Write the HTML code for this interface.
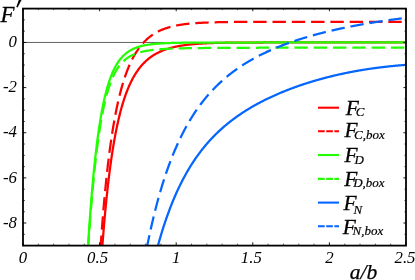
<!DOCTYPE html>
<html><head><meta charset="utf-8"><title>chart</title>
<style>html,body{margin:0;padding:0;background:#fff;width:415px;height:280px;overflow:hidden}</style>
</head><body>
<svg width="415" height="280" viewBox="0 0 415 280" style="position:absolute;left:0;top:0">
<rect width="415" height="280" fill="#fff"/>
<defs><clipPath id="c"><rect x="23.0" y="8.6" width="383.0" height="237.0"/></clipPath></defs>
<line x1="23.0" y1="42.46" x2="406.0" y2="42.46" stroke="#3a3a3a" stroke-width="0.8"/>
<g clip-path="url(#c)" fill="none" stroke-width="2.25" stroke-linecap="butt" stroke-linejoin="round">
<path d="M101.91,252.17 L102.46,244.74 L103.01,237.61 L103.56,230.79 L104.11,224.24 L104.66,217.96 L105.21,211.94 L105.76,206.16 L106.31,200.61 L106.86,195.28 L107.41,190.16 L107.96,185.24 L108.51,180.51 L109.06,175.96 L109.61,171.59 L110.16,167.38 L110.71,163.33 L111.26,159.44 L111.81,155.69 L112.36,152.07 L112.91,148.60 L113.46,145.24 L114.01,142.01 L114.56,138.90 L115.11,135.90 L115.66,133.00 L116.21,130.21 L116.76,127.51 L117.31,124.91 L117.86,122.40 L118.41,119.97 L118.96,117.63 L119.51,115.37 L120.06,113.19 L120.61,111.08 L121.16,109.04 L121.71,107.06 L122.26,105.16 L122.81,103.31 L123.36,101.53 L123.91,99.80 L124.46,98.14 L125.01,96.52 L125.56,94.96 L126.11,93.44 L126.66,91.98 L127.21,90.56 L127.76,89.18 L128.31,87.85 L128.86,86.56 L129.41,85.31 L129.96,84.10 L130.51,82.93 L131.06,81.79 L131.61,80.69 L132.16,79.62 L132.71,78.58 L133.26,77.57 L133.81,76.60 L134.36,75.65 L134.91,74.73 L135.46,73.84 L136.01,72.97 L136.56,72.13 L137.11,71.32 L137.66,70.53 L138.21,69.76 L138.76,69.01 L139.31,68.29 L139.86,67.58 L140.41,66.90 L140.96,66.24 L141.51,65.59 L142.06,64.96 L142.61,64.35 L143.16,63.76 L143.71,63.19 L144.26,62.63 L144.81,62.08 L145.36,61.55 L145.91,61.04 L146.46,60.54 L147.01,60.05 L147.55,59.58 L148.10,59.12 L148.65,58.68 L149.20,58.24 L149.75,57.82 L150.30,57.41 L150.85,57.01 L151.40,56.62 L151.95,56.24 L152.50,55.87 L153.05,55.51 L153.60,55.16 L154.15,54.82 L154.70,54.49 L155.25,54.17 L155.80,53.86 L156.35,53.55 L156.90,53.26 L157.45,52.97 L158.00,52.69 L158.55,52.41 L159.10,52.15 L159.65,51.89 L160.20,51.63 L160.75,51.39 L161.30,51.15 L161.85,50.92 L162.40,50.69 L162.95,50.47 L163.50,50.25 L164.05,50.04 L164.60,49.84 L165.15,49.64 L165.70,49.45 L166.25,49.26 L166.80,49.08 L167.35,48.90 L167.90,48.73 L168.45,48.56 L169.00,48.39 L169.55,48.23 L170.10,48.07 L170.65,47.92 L171.20,47.77 L171.75,47.63 L172.30,47.49 L172.85,47.35 L173.40,47.22 L173.95,47.09 L174.50,46.96 L175.05,46.84 L175.60,46.72 L176.15,46.60 L176.70,46.49 L177.25,46.38 L177.80,46.27 L178.35,46.16 L178.90,46.06 L179.45,45.96 L180.00,45.86 L180.55,45.77 L181.10,45.68 L181.65,45.59 L182.20,45.50 L182.75,45.42 L183.30,45.33 L183.85,45.25 L184.40,45.17 L184.95,45.10 L185.50,45.02 L186.05,44.95 L186.60,44.88 L187.15,44.81 L187.70,44.75 L188.25,44.68 L188.80,44.62 L189.35,44.56 L189.90,44.50 L190.45,44.44 L191.00,44.38 L191.55,44.33 L192.10,44.27 L192.65,44.22 L193.20,44.17 L193.75,44.12 L194.29,44.07 L194.84,44.03 L195.39,43.98 L195.94,43.94 L196.49,43.89 L197.04,43.85 L197.59,43.81 L198.14,43.77 L198.69,43.73 L199.24,43.70 L199.79,43.66 L200.34,43.62 L200.89,43.59 L201.44,43.56 L201.99,43.52 L202.54,43.49 L203.09,43.46 L203.64,43.43 L204.19,43.40 L204.74,43.37 L205.29,43.35 L205.84,43.32 L206.39,43.29 L206.94,43.27 L207.49,43.24 L208.04,43.22 L208.59,43.20 L209.14,43.17 L209.69,43.15 L210.24,43.13 L210.79,43.11 L211.34,43.09 L211.89,43.07 L212.44,43.05 L212.99,43.03 L213.54,43.02 L214.09,43.00 L214.64,42.98 L215.19,42.97 L215.74,42.95 L216.29,42.94 L216.84,42.92 L217.39,42.91 L217.94,42.89 L218.49,42.88 L219.04,42.87 L219.59,42.85 L220.14,42.84 L220.69,42.83 L221.24,42.82 L221.79,42.81 L222.34,42.79 L222.89,42.78 L223.44,42.77 L223.99,42.76 L224.54,42.75 L225.09,42.74 L225.64,42.74 L226.19,42.73 L226.74,42.72 L227.29,42.71 L227.84,42.70 L228.39,42.69 L228.94,42.69 L229.49,42.68 L230.04,42.67 L230.59,42.67 L231.14,42.66 L231.69,42.65 L232.24,42.65 L232.79,42.64 L233.34,42.64 L233.89,42.63 L234.44,42.62 L234.99,42.62 L235.54,42.61 L236.09,42.61 L236.64,42.60 L237.19,42.60 L237.74,42.59 L238.29,42.59 L238.84,42.59 L239.39,42.58 L239.94,42.58 L240.49,42.57 L241.04,42.57 L241.58,42.57 L242.13,42.56 L242.68,42.56 L243.23,42.56 L243.78,42.55 L244.33,42.55 L244.88,42.55 L245.43,42.55 L245.98,42.54 L246.53,42.54 L247.08,42.54 L247.63,42.54 L248.18,42.53 L248.73,42.53 L249.28,42.53 L249.83,42.53 L250.38,42.53 L250.93,42.52 L251.48,42.52 L252.03,42.52 L252.58,42.52 L253.13,42.52 L253.68,42.51 L254.23,42.51 L254.78,42.51 L255.33,42.51 L255.88,42.51 L256.43,42.51 L256.98,42.51 L257.53,42.51 L258.08,42.50 L258.63,42.50 L259.18,42.50 L259.73,42.50 L260.28,42.50 L260.83,42.50 L261.38,42.50 L261.93,42.50 L262.48,42.50 L263.03,42.50 L263.58,42.49 L264.13,42.49 L264.68,42.49 L265.23,42.49 L265.78,42.49 L266.33,42.49 L266.88,42.49 L267.43,42.49 L267.98,42.49 L268.53,42.49 L269.08,42.49 L269.63,42.49 L270.18,42.49 L270.73,42.49 L271.28,42.49 L271.83,42.49 L272.38,42.48 L272.93,42.48 L273.48,42.48 L274.03,42.48 L274.58,42.48 L275.13,42.48 L275.68,42.48 L276.23,42.48 L276.78,42.48 L277.33,42.48 L277.88,42.48 L278.43,42.48 L278.98,42.48 L279.53,42.48 L280.08,42.48 L280.63,42.48 L281.18,42.48 L281.73,42.48 L282.28,42.48 L282.83,42.48 L283.38,42.48 L283.93,42.48 L284.48,42.48 L285.03,42.48 L285.58,42.48 L286.13,42.48 L286.68,42.48 L287.23,42.48 L287.78,42.48 L288.33,42.48 L288.87,42.48 L289.42,42.48 L289.97,42.48 L290.52,42.48 L291.07,42.48 L291.62,42.48 L292.17,42.48 L292.72,42.48 L293.27,42.48 L293.82,42.48 L294.37,42.48 L294.92,42.48 L295.47,42.48 L296.02,42.48 L296.57,42.48 L297.12,42.48 L297.67,42.48 L298.22,42.48 L298.77,42.48 L299.32,42.48 L299.87,42.48 L300.42,42.48 L300.97,42.48 L301.52,42.48 L302.07,42.48 L302.62,42.48 L303.17,42.48 L303.72,42.48 L304.27,42.48 L304.82,42.48 L305.37,42.48 L305.92,42.48 L306.47,42.48 L307.02,42.48 L307.57,42.48 L308.12,42.48 L308.67,42.48 L309.22,42.48 L309.77,42.48 L310.32,42.48 L310.87,42.48 L311.42,42.48 L311.97,42.48 L312.52,42.48 L313.07,42.48 L313.62,42.48 L314.17,42.48 L314.72,42.48 L315.27,42.48 L315.82,42.48 L316.37,42.48 L316.92,42.48 L317.47,42.48 L318.02,42.48 L318.57,42.48 L319.12,42.48 L319.67,42.48 L320.22,42.48 L320.77,42.48 L321.32,42.48 L321.87,42.48 L322.42,42.48 L322.97,42.48 L323.52,42.48 L324.07,42.48 L324.62,42.48 L325.17,42.48 L325.72,42.48 L326.27,42.48 L326.82,42.48 L327.37,42.48 L327.92,42.48 L328.47,42.48 L329.02,42.48 L329.57,42.48 L330.12,42.48 L330.67,42.48 L331.22,42.48 L331.77,42.48 L332.32,42.48 L332.87,42.48 L333.42,42.48 L333.97,42.48 L334.52,42.48 L335.07,42.48 L335.61,42.48 L336.16,42.48 L336.71,42.48 L337.26,42.48 L337.81,42.48 L338.36,42.48 L338.91,42.48 L339.46,42.48 L340.01,42.48 L340.56,42.48 L341.11,42.48 L341.66,42.48 L342.21,42.48 L342.76,42.48 L343.31,42.48 L343.86,42.48 L344.41,42.48 L344.96,42.48 L345.51,42.48 L346.06,42.48 L346.61,42.48 L347.16,42.48 L347.71,42.48 L348.26,42.47 L348.81,42.47 L349.36,42.47 L349.91,42.47 L350.46,42.47 L351.01,42.47 L351.56,42.47 L352.11,42.47 L352.66,42.47 L353.21,42.47 L353.76,42.47 L354.31,42.47 L354.86,42.47 L355.41,42.47 L355.96,42.47 L356.51,42.47 L357.06,42.47 L357.61,42.47 L358.16,42.47 L358.71,42.47 L359.26,42.47 L359.81,42.47 L360.36,42.47 L360.91,42.47 L361.46,42.47 L362.01,42.47 L362.56,42.47 L363.11,42.47 L363.66,42.47 L364.21,42.47 L364.76,42.47 L365.31,42.47 L365.86,42.47 L366.41,42.47 L366.96,42.47 L367.51,42.47 L368.06,42.47 L368.61,42.47 L369.16,42.47 L369.71,42.47 L370.26,42.47 L370.81,42.47 L371.36,42.47 L371.91,42.47 L372.46,42.47 L373.01,42.47 L373.56,42.47 L374.11,42.47 L374.66,42.47 L375.21,42.47 L375.76,42.47 L376.31,42.47 L376.86,42.47 L377.41,42.47 L377.96,42.47 L378.51,42.47 L379.06,42.47 L379.61,42.47 L380.16,42.47 L380.71,42.47 L381.26,42.47 L381.81,42.47 L382.36,42.47 L382.90,42.47 L383.45,42.47 L384.00,42.47 L384.55,42.47 L385.10,42.47 L385.65,42.47 L386.20,42.47 L386.75,42.47 L387.30,42.47 L387.85,42.47 L388.40,42.47 L388.95,42.47 L389.50,42.47 L390.05,42.47 L390.60,42.47 L391.15,42.47 L391.70,42.47 L392.25,42.47 L392.80,42.47 L393.35,42.47 L393.90,42.47 L394.45,42.47 L395.00,42.47 L395.55,42.47 L396.10,42.47 L396.65,42.47 L397.20,42.47 L397.75,42.47 L398.30,42.47 L398.85,42.47 L399.40,42.47 L399.95,42.47 L400.50,42.47 L401.05,42.47 L401.60,42.47 L402.15,42.47 L402.70,42.47 L403.25,42.47 L403.80,42.47 L404.35,42.47 L404.90,42.47 L405.45,42.47 L406.00,42.47" stroke="#ff0000"/>
<path d="M100.26,252.03 L100.81,243.97 L101.36,236.24 L101.91,228.84 L102.46,221.73 L103.01,214.92 L103.56,208.38 L104.11,202.10 L104.66,196.07 L105.21,190.28 L105.76,184.71 L106.31,179.35 L106.86,174.20 L107.41,169.25 L107.96,164.48 L108.51,159.89 L109.06,155.47 L109.61,151.21 L110.16,147.11 L110.71,143.15 L111.26,139.34 L111.81,135.67 L112.36,132.12 L112.91,128.70 L113.46,125.40 L114.01,122.21 L114.56,119.14 L115.11,116.17 L115.66,113.30 L116.21,110.52 L116.76,107.84 L117.31,105.25 L117.86,102.75 L118.41,100.33 L118.96,97.99 L119.51,95.72 L120.06,93.53 L120.61,91.41 L121.16,89.36 L121.71,87.37 L122.26,85.44 L122.81,83.58 L123.36,81.78 L123.91,80.03 L124.46,78.34 L125.01,76.70 L125.56,75.11 L126.11,73.57 L126.66,72.07 L127.21,70.62 L127.76,69.22 L128.31,67.86 L128.86,66.54 L129.41,65.26 L129.96,64.02 L130.51,62.81 L131.06,61.64 L131.61,60.51 L132.16,59.41 L132.71,58.34 L133.26,57.30 L133.81,56.30 L134.36,55.32 L134.91,54.37 L135.46,53.45 L136.01,52.55 L136.56,51.69 L137.11,50.84 L137.66,50.02 L138.21,49.23 L138.76,48.45 L139.31,47.70 L139.86,46.97 L140.41,46.27 L140.96,45.58 L141.51,44.91 L142.06,44.26 L142.61,43.63 L143.16,43.01 L143.71,42.42 L144.26,41.84 L144.81,41.28 L145.36,40.73 L145.91,40.20 L146.46,39.68 L147.01,39.18 L147.55,38.69 L148.10,38.21 L148.65,37.75 L149.20,37.31 L149.75,36.87 L150.30,36.45 L150.85,36.03 L151.40,35.63 L151.95,35.24 L152.50,34.87 L153.05,34.50 L153.60,34.14 L154.15,33.79 L154.70,33.45 L155.25,33.13 L155.80,32.81 L156.35,32.50 L156.90,32.19 L157.45,31.90 L158.00,31.61 L158.55,31.34 L159.10,31.07 L159.65,30.81 L160.20,30.55 L160.75,30.30 L161.30,30.06 L161.85,29.83 L162.40,29.60 L162.95,29.38 L163.50,29.16 L164.05,28.95 L164.60,28.75 L165.15,28.55 L165.70,28.36 L166.25,28.17 L166.80,27.99 L167.35,27.82 L167.90,27.64 L168.45,27.48 L169.00,27.32 L169.55,27.16 L170.10,27.01 L170.65,26.86 L171.20,26.71 L171.75,26.57 L172.30,26.43 L172.85,26.30 L173.40,26.17 L173.95,26.05 L174.50,25.93 L175.05,25.81 L175.60,25.69 L176.15,25.58 L176.70,25.47 L177.25,25.37 L177.80,25.26 L178.35,25.16 L178.90,25.07 L179.45,24.97 L180.00,24.88 L180.55,24.79 L181.10,24.71 L181.65,24.62 L182.20,24.54 L182.75,24.46 L183.30,24.39 L183.85,24.31 L184.40,24.24 L184.95,24.17 L185.50,24.10 L186.05,24.03 L186.60,23.97 L187.15,23.91 L187.70,23.85 L188.25,23.79 L188.80,23.73 L189.35,23.67 L189.90,23.62 L190.45,23.57 L191.00,23.52 L191.55,23.47 L192.10,23.42 L192.65,23.37 L193.20,23.33 L193.75,23.28 L194.29,23.24 L194.84,23.20 L195.39,23.16 L195.94,23.12 L196.49,23.08 L197.04,23.04 L197.59,23.01 L198.14,22.97 L198.69,22.94 L199.24,22.91 L199.79,22.88 L200.34,22.84 L200.89,22.81 L201.44,22.79 L201.99,22.76 L202.54,22.73 L203.09,22.70 L203.64,22.68 L204.19,22.65 L204.74,22.63 L205.29,22.60 L205.84,22.58 L206.39,22.56 L206.94,22.54 L207.49,22.52 L208.04,22.50 L208.59,22.48 L209.14,22.46 L209.69,22.44 L210.24,22.42 L210.79,22.40 L211.34,22.39 L211.89,22.37 L212.44,22.35 L212.99,22.34 L213.54,22.32 L214.09,22.31 L214.64,22.30 L215.19,22.28 L215.74,22.27 L216.29,22.26 L216.84,22.24 L217.39,22.23 L217.94,22.22 L218.49,22.21 L219.04,22.20 L219.59,22.19 L220.14,22.18 L220.69,22.17 L221.24,22.16 L221.79,22.15 L222.34,22.14 L222.89,22.13 L223.44,22.12 L223.99,22.11 L224.54,22.10 L225.09,22.09 L225.64,22.09 L226.19,22.08 L226.74,22.07 L227.29,22.07 L227.84,22.06 L228.39,22.05 L228.94,22.05 L229.49,22.04 L230.04,22.03 L230.59,22.03 L231.14,22.02 L231.69,22.02 L232.24,22.01 L232.79,22.01 L233.34,22.00 L233.89,22.00 L234.44,21.99 L234.99,21.99 L235.54,21.98 L236.09,21.98 L236.64,21.97 L237.19,21.97 L237.74,21.97 L238.29,21.96 L238.84,21.96 L239.39,21.95 L239.94,21.95 L240.49,21.95 L241.04,21.94 L241.58,21.94 L242.13,21.94 L242.68,21.94 L243.23,21.93 L243.78,21.93 L244.33,21.93 L244.88,21.92 L245.43,21.92 L245.98,21.92 L246.53,21.92 L247.08,21.91 L247.63,21.91 L248.18,21.91 L248.73,21.91 L249.28,21.91 L249.83,21.90 L250.38,21.90 L250.93,21.90 L251.48,21.90 L252.03,21.90 L252.58,21.89 L253.13,21.89 L253.68,21.89 L254.23,21.89 L254.78,21.89 L255.33,21.89 L255.88,21.88 L256.43,21.88 L256.98,21.88 L257.53,21.88 L258.08,21.88 L258.63,21.88 L259.18,21.88 L259.73,21.88 L260.28,21.87 L260.83,21.87 L261.38,21.87 L261.93,21.87 L262.48,21.87 L263.03,21.87 L263.58,21.87 L264.13,21.87 L264.68,21.87 L265.23,21.87 L265.78,21.86 L266.33,21.86 L266.88,21.86 L267.43,21.86 L267.98,21.86 L268.53,21.86 L269.08,21.86 L269.63,21.86 L270.18,21.86 L270.73,21.86 L271.28,21.86 L271.83,21.86 L272.38,21.86 L272.93,21.86 L273.48,21.85 L274.03,21.85 L274.58,21.85 L275.13,21.85 L275.68,21.85 L276.23,21.85 L276.78,21.85 L277.33,21.85 L277.88,21.85 L278.43,21.85 L278.98,21.85 L279.53,21.85 L280.08,21.85 L280.63,21.85 L281.18,21.85 L281.73,21.85 L282.28,21.85 L282.83,21.85 L283.38,21.85 L283.93,21.85 L284.48,21.85 L285.03,21.85 L285.58,21.85 L286.13,21.84 L286.68,21.84 L287.23,21.84 L287.78,21.84 L288.33,21.84 L288.87,21.84 L289.42,21.84 L289.97,21.84 L290.52,21.84 L291.07,21.84 L291.62,21.84 L292.17,21.84 L292.72,21.84 L293.27,21.84 L293.82,21.84 L294.37,21.84 L294.92,21.84 L295.47,21.84 L296.02,21.84 L296.57,21.84 L297.12,21.84 L297.67,21.84 L298.22,21.84 L298.77,21.84 L299.32,21.84 L299.87,21.84 L300.42,21.84 L300.97,21.84 L301.52,21.84 L302.07,21.84 L302.62,21.84 L303.17,21.84 L303.72,21.84 L304.27,21.84 L304.82,21.84 L305.37,21.84 L305.92,21.84 L306.47,21.84 L307.02,21.84 L307.57,21.84 L308.12,21.84 L308.67,21.84 L309.22,21.84 L309.77,21.84 L310.32,21.84 L310.87,21.84 L311.42,21.84 L311.97,21.84 L312.52,21.84 L313.07,21.84 L313.62,21.84 L314.17,21.84 L314.72,21.84 L315.27,21.84 L315.82,21.84 L316.37,21.84 L316.92,21.84 L317.47,21.84 L318.02,21.84 L318.57,21.84 L319.12,21.84 L319.67,21.84 L320.22,21.84 L320.77,21.84 L321.32,21.84 L321.87,21.84 L322.42,21.84 L322.97,21.84 L323.52,21.84 L324.07,21.84 L324.62,21.84 L325.17,21.84 L325.72,21.84 L326.27,21.84 L326.82,21.84 L327.37,21.84 L327.92,21.84 L328.47,21.84 L329.02,21.84 L329.57,21.83 L330.12,21.83 L330.67,21.83 L331.22,21.83 L331.77,21.83 L332.32,21.83 L332.87,21.83 L333.42,21.83 L333.97,21.83 L334.52,21.83 L335.07,21.83 L335.61,21.83 L336.16,21.83 L336.71,21.83 L337.26,21.83 L337.81,21.83 L338.36,21.83 L338.91,21.83 L339.46,21.83 L340.01,21.83 L340.56,21.83 L341.11,21.83 L341.66,21.83 L342.21,21.83 L342.76,21.83 L343.31,21.83 L343.86,21.83 L344.41,21.83 L344.96,21.83 L345.51,21.83 L346.06,21.83 L346.61,21.83 L347.16,21.83 L347.71,21.83 L348.26,21.83 L348.81,21.83 L349.36,21.83 L349.91,21.83 L350.46,21.83 L351.01,21.83 L351.56,21.83 L352.11,21.83 L352.66,21.83 L353.21,21.83 L353.76,21.83 L354.31,21.83 L354.86,21.83 L355.41,21.83 L355.96,21.83 L356.51,21.83 L357.06,21.83 L357.61,21.83 L358.16,21.83 L358.71,21.83 L359.26,21.83 L359.81,21.83 L360.36,21.83 L360.91,21.83 L361.46,21.83 L362.01,21.83 L362.56,21.83 L363.11,21.83 L363.66,21.83 L364.21,21.83 L364.76,21.83 L365.31,21.83 L365.86,21.83 L366.41,21.83 L366.96,21.83 L367.51,21.83 L368.06,21.83 L368.61,21.83 L369.16,21.83 L369.71,21.83 L370.26,21.83 L370.81,21.83 L371.36,21.83 L371.91,21.83 L372.46,21.84 L373.01,21.84 L373.56,21.84 L374.11,21.84 L374.66,21.84 L375.21,21.84 L375.76,21.84 L376.31,21.84 L376.86,21.84 L377.41,21.84 L377.96,21.84 L378.51,21.84 L379.06,21.84 L379.61,21.84 L380.16,21.84 L380.71,21.84 L381.26,21.84 L381.81,21.84 L382.36,21.84 L382.90,21.84 L383.45,21.84 L384.00,21.84 L384.55,21.84 L385.10,21.84 L385.65,21.84 L386.20,21.84 L386.75,21.84 L387.30,21.84 L387.85,21.84 L388.40,21.84 L388.95,21.84 L389.50,21.84 L390.05,21.84 L390.60,21.84 L391.15,21.84 L391.70,21.84 L392.25,21.84 L392.80,21.84 L393.35,21.84 L393.90,21.84 L394.45,21.84 L395.00,21.84 L395.55,21.84 L396.10,21.84 L396.65,21.84 L397.20,21.84 L397.75,21.84 L398.30,21.84 L398.85,21.84 L399.40,21.84 L399.95,21.84 L400.50,21.84 L401.05,21.84 L401.60,21.84 L402.15,21.84 L402.70,21.84 L403.25,21.84 L403.80,21.84 L404.35,21.84 L404.90,21.84 L405.45,21.84 L406.00,21.84" stroke="#ff0000" stroke-dasharray="13.4 5.9" stroke-dashoffset="16.16"/>
<path d="M88.17,243.63 L88.72,235.14 L89.27,227.01 L89.82,219.22 L90.37,211.76 L90.92,204.61 L91.47,197.76 L92.02,191.20 L92.57,184.92 L93.12,178.91 L93.67,173.15 L94.22,167.63 L94.77,162.34 L95.32,157.29 L95.87,152.44 L96.42,147.80 L96.97,143.36 L97.52,139.11 L98.07,135.04 L98.62,131.14 L99.17,127.40 L99.72,123.83 L100.26,120.41 L100.81,117.13 L101.36,113.99 L101.91,110.99 L102.46,108.11 L103.01,105.36 L103.56,102.73 L104.11,100.20 L104.66,97.79 L105.21,95.47 L105.76,93.26 L106.31,91.14 L106.86,89.11 L107.41,87.17 L107.96,85.31 L108.51,83.52 L109.06,81.82 L109.61,80.18 L110.16,78.62 L110.71,77.12 L111.26,75.69 L111.81,74.31 L112.36,73.00 L112.91,71.74 L113.46,70.53 L114.01,69.38 L114.56,68.27 L115.11,67.21 L115.66,66.20 L116.21,65.23 L116.76,64.30 L117.31,63.40 L117.86,62.55 L118.41,61.73 L118.96,60.95 L119.51,60.20 L120.06,59.48 L120.61,58.79 L121.16,58.13 L121.71,57.50 L122.26,56.89 L122.81,56.31 L123.36,55.75 L123.91,55.22 L124.46,54.71 L125.01,54.22 L125.56,53.75 L126.11,53.30 L126.66,52.87 L127.21,52.45 L127.76,52.06 L128.31,51.68 L128.86,51.31 L129.41,50.96 L129.96,50.63 L130.51,50.31 L131.06,50.00 L131.61,49.70 L132.16,49.42 L132.71,49.15 L133.26,48.89 L133.81,48.64 L134.36,48.40 L134.91,48.17 L135.46,47.95 L136.01,47.73 L136.56,47.53 L137.11,47.34 L137.66,47.15 L138.21,46.97 L138.76,46.80 L139.31,46.63 L139.86,46.47 L140.41,46.32 L140.96,46.18 L141.51,46.04 L142.06,45.90 L142.61,45.77 L143.16,45.65 L143.71,45.53 L144.26,45.41 L144.81,45.30 L145.36,45.20 L145.91,45.10 L146.46,45.00 L147.01,44.91 L147.55,44.82 L148.10,44.73 L148.65,44.65 L149.20,44.57 L149.75,44.49 L150.30,44.42 L150.85,44.34 L151.40,44.28 L151.95,44.21 L152.50,44.15 L153.05,44.09 L153.60,44.03 L154.15,43.97 L154.70,43.92 L155.25,43.87 L155.80,43.82 L156.35,43.77 L156.90,43.73 L157.45,43.68 L158.00,43.64 L158.55,43.60 L159.10,43.56 L159.65,43.52 L160.20,43.48 L160.75,43.45 L161.30,43.41 L161.85,43.38 L162.40,43.35 L162.95,43.32 L163.50,43.29 L164.05,43.26 L164.60,43.24 L165.15,43.21 L165.70,43.19 L166.25,43.16 L166.80,43.14 L167.35,43.12 L167.90,43.10 L168.45,43.07 L169.00,43.05 L169.55,43.04 L170.10,43.02 L170.65,43.00 L171.20,42.98 L171.75,42.97 L172.30,42.95 L172.85,42.93 L173.40,42.92 L173.95,42.90 L174.50,42.89 L175.05,42.88 L175.60,42.86 L176.15,42.85 L176.70,42.84 L177.25,42.83 L177.80,42.82 L178.35,42.81 L178.90,42.80 L179.45,42.79 L180.00,42.78 L180.55,42.77 L181.10,42.76 L181.65,42.75 L182.20,42.74 L182.75,42.73 L183.30,42.73 L183.85,42.72 L184.40,42.71 L184.95,42.70 L185.50,42.70 L186.05,42.69 L186.60,42.68 L187.15,42.68 L187.70,42.67 L188.25,42.67 L188.80,42.66 L189.35,42.66 L189.90,42.65 L190.45,42.65 L191.00,42.64 L191.55,42.64 L192.10,42.63 L192.65,42.63 L193.20,42.62 L193.75,42.62 L194.29,42.62 L194.84,42.61 L195.39,42.61 L195.94,42.60 L196.49,42.60 L197.04,42.60 L197.59,42.59 L198.14,42.59 L198.69,42.59 L199.24,42.59 L199.79,42.58 L200.34,42.58 L200.89,42.58 L201.44,42.57 L201.99,42.57 L202.54,42.57 L203.09,42.57 L203.64,42.57 L204.19,42.56 L204.74,42.56 L205.29,42.56 L205.84,42.56 L206.39,42.55 L206.94,42.55 L207.49,42.55 L208.04,42.55 L208.59,42.55 L209.14,42.55 L209.69,42.54 L210.24,42.54 L210.79,42.54 L211.34,42.54 L211.89,42.54 L212.44,42.54 L212.99,42.54 L213.54,42.53 L214.09,42.53 L214.64,42.53 L215.19,42.53 L215.74,42.53 L216.29,42.53 L216.84,42.53 L217.39,42.53 L217.94,42.53 L218.49,42.52 L219.04,42.52 L219.59,42.52 L220.14,42.52 L220.69,42.52 L221.24,42.52 L221.79,42.52 L222.34,42.52 L222.89,42.52 L223.44,42.52 L223.99,42.52 L224.54,42.52 L225.09,42.51 L225.64,42.51 L226.19,42.51 L226.74,42.51 L227.29,42.51 L227.84,42.51 L228.39,42.51 L228.94,42.51 L229.49,42.51 L230.04,42.51 L230.59,42.51 L231.14,42.51 L231.69,42.51 L232.24,42.51 L232.79,42.51 L233.34,42.51 L233.89,42.51 L234.44,42.51 L234.99,42.50 L235.54,42.50 L236.09,42.50 L236.64,42.50 L237.19,42.50 L237.74,42.50 L238.29,42.50 L238.84,42.50 L239.39,42.50 L239.94,42.50 L240.49,42.50 L241.04,42.50 L241.58,42.50 L242.13,42.50 L242.68,42.50 L243.23,42.50 L243.78,42.50 L244.33,42.50 L244.88,42.50 L245.43,42.50 L245.98,42.50 L246.53,42.50 L247.08,42.50 L247.63,42.50 L248.18,42.50 L248.73,42.50 L249.28,42.50 L249.83,42.50 L250.38,42.50 L250.93,42.50 L251.48,42.50 L252.03,42.50 L252.58,42.50 L253.13,42.50 L253.68,42.50 L254.23,42.50 L254.78,42.50 L255.33,42.50 L255.88,42.49 L256.43,42.49 L256.98,42.49 L257.53,42.49 L258.08,42.49 L258.63,42.49 L259.18,42.49 L259.73,42.49 L260.28,42.49 L260.83,42.49 L261.38,42.49 L261.93,42.49 L262.48,42.49 L263.03,42.49 L263.58,42.49 L264.13,42.49 L264.68,42.49 L265.23,42.49 L265.78,42.49 L266.33,42.49 L266.88,42.49 L267.43,42.49 L267.98,42.49 L268.53,42.49 L269.08,42.49 L269.63,42.49 L270.18,42.49 L270.73,42.49 L271.28,42.49 L271.83,42.49 L272.38,42.49 L272.93,42.49 L273.48,42.49 L274.03,42.49 L274.58,42.49 L275.13,42.49 L275.68,42.49 L276.23,42.49 L276.78,42.49 L277.33,42.49 L277.88,42.49 L278.43,42.49 L278.98,42.49 L279.53,42.49 L280.08,42.49 L280.63,42.49 L281.18,42.49 L281.73,42.49 L282.28,42.49 L282.83,42.49 L283.38,42.49 L283.93,42.49 L284.48,42.49 L285.03,42.49 L285.58,42.49 L286.13,42.49 L286.68,42.49 L287.23,42.49 L287.78,42.49 L288.33,42.49 L288.87,42.49 L289.42,42.49 L289.97,42.49 L290.52,42.49 L291.07,42.49 L291.62,42.49 L292.17,42.49 L292.72,42.49 L293.27,42.49 L293.82,42.49 L294.37,42.49 L294.92,42.49 L295.47,42.49 L296.02,42.49 L296.57,42.49 L297.12,42.49 L297.67,42.49 L298.22,42.49 L298.77,42.49 L299.32,42.49 L299.87,42.49 L300.42,42.49 L300.97,42.49 L301.52,42.49 L302.07,42.49 L302.62,42.49 L303.17,42.49 L303.72,42.49 L304.27,42.49 L304.82,42.49 L305.37,42.49 L305.92,42.49 L306.47,42.49 L307.02,42.49 L307.57,42.49 L308.12,42.49 L308.67,42.49 L309.22,42.49 L309.77,42.49 L310.32,42.49 L310.87,42.49 L311.42,42.49 L311.97,42.49 L312.52,42.49 L313.07,42.49 L313.62,42.49 L314.17,42.49 L314.72,42.49 L315.27,42.49 L315.82,42.49 L316.37,42.49 L316.92,42.49 L317.47,42.49 L318.02,42.49 L318.57,42.49 L319.12,42.49 L319.67,42.49 L320.22,42.49 L320.77,42.49 L321.32,42.49 L321.87,42.49 L322.42,42.49 L322.97,42.49 L323.52,42.49 L324.07,42.49 L324.62,42.49 L325.17,42.49 L325.72,42.49 L326.27,42.49 L326.82,42.49 L327.37,42.49 L327.92,42.49 L328.47,42.49 L329.02,42.49 L329.57,42.49 L330.12,42.49 L330.67,42.49 L331.22,42.49 L331.77,42.49 L332.32,42.49 L332.87,42.49 L333.42,42.49 L333.97,42.49 L334.52,42.49 L335.07,42.49 L335.61,42.49 L336.16,42.49 L336.71,42.49 L337.26,42.49 L337.81,42.49 L338.36,42.49 L338.91,42.49 L339.46,42.49 L340.01,42.49 L340.56,42.49 L341.11,42.49 L341.66,42.49 L342.21,42.49 L342.76,42.49 L343.31,42.49 L343.86,42.49 L344.41,42.49 L344.96,42.49 L345.51,42.49 L346.06,42.49 L346.61,42.49 L347.16,42.49 L347.71,42.49 L348.26,42.49 L348.81,42.49 L349.36,42.49 L349.91,42.49 L350.46,42.49 L351.01,42.49 L351.56,42.49 L352.11,42.49 L352.66,42.49 L353.21,42.49 L353.76,42.49 L354.31,42.49 L354.86,42.49 L355.41,42.49 L355.96,42.49 L356.51,42.49 L357.06,42.49 L357.61,42.49 L358.16,42.49 L358.71,42.49 L359.26,42.49 L359.81,42.49 L360.36,42.49 L360.91,42.49 L361.46,42.49 L362.01,42.49 L362.56,42.49 L363.11,42.49 L363.66,42.49 L364.21,42.49 L364.76,42.49 L365.31,42.49 L365.86,42.49 L366.41,42.49 L366.96,42.49 L367.51,42.49 L368.06,42.49 L368.61,42.49 L369.16,42.49 L369.71,42.49 L370.26,42.49 L370.81,42.49 L371.36,42.49 L371.91,42.49 L372.46,42.49 L373.01,42.49 L373.56,42.49 L374.11,42.49 L374.66,42.49 L375.21,42.49 L375.76,42.49 L376.31,42.49 L376.86,42.49 L377.41,42.49 L377.96,42.49 L378.51,42.49 L379.06,42.49 L379.61,42.49 L380.16,42.49 L380.71,42.49 L381.26,42.49 L381.81,42.49 L382.36,42.49 L382.90,42.49 L383.45,42.49 L384.00,42.49 L384.55,42.49 L385.10,42.49 L385.65,42.49 L386.20,42.49 L386.75,42.49 L387.30,42.49 L387.85,42.49 L388.40,42.49 L388.95,42.49 L389.50,42.49 L390.05,42.49 L390.60,42.49 L391.15,42.49 L391.70,42.49 L392.25,42.49 L392.80,42.49 L393.35,42.49 L393.90,42.49 L394.45,42.49 L395.00,42.49 L395.55,42.49 L396.10,42.49 L396.65,42.49 L397.20,42.49 L397.75,42.49 L398.30,42.49 L398.85,42.49 L399.40,42.49 L399.95,42.49 L400.50,42.49 L401.05,42.49 L401.60,42.49 L402.15,42.49 L402.70,42.49 L403.25,42.49 L403.80,42.49 L404.35,42.49 L404.90,42.49 L405.45,42.49 L406.00,42.49" stroke="#22ff00"/>
<path d="M88.17,248.07 L88.72,239.88 L89.27,231.99 L89.82,224.39 L90.37,217.08 L90.92,210.05 L91.47,203.29 L92.02,196.80 L92.57,190.56 L93.12,184.57 L93.67,178.81 L94.22,173.29 L94.77,168.00 L95.32,162.92 L95.87,158.05 L96.42,153.38 L96.97,148.90 L97.52,144.62 L98.07,140.51 L98.62,136.57 L99.17,132.80 L99.72,129.19 L100.26,125.74 L100.81,122.43 L101.36,119.27 L101.91,116.24 L102.46,113.34 L103.01,110.56 L103.56,107.91 L104.11,105.37 L104.66,102.94 L105.21,100.62 L105.76,98.40 L106.31,96.27 L106.86,94.24 L107.41,92.30 L107.96,90.44 L108.51,88.66 L109.06,86.96 L109.61,85.33 L110.16,83.78 L110.71,82.29 L111.26,80.87 L111.81,79.51 L112.36,78.21 L112.91,76.97 L113.46,75.78 L114.01,74.64 L114.56,73.55 L115.11,72.51 L115.66,71.52 L116.21,70.56 L116.76,69.65 L117.31,68.78 L117.86,67.95 L118.41,67.15 L118.96,66.38 L119.51,65.65 L120.06,64.95 L120.61,64.28 L121.16,63.64 L121.71,63.03 L122.26,62.44 L122.81,61.88 L123.36,61.34 L123.91,60.82 L124.46,60.32 L125.01,59.85 L125.56,59.40 L126.11,58.96 L126.66,58.54 L127.21,58.14 L127.76,57.76 L128.31,57.39 L128.86,57.04 L129.41,56.70 L129.96,56.38 L130.51,56.07 L131.06,55.77 L131.61,55.48 L132.16,55.21 L132.71,54.94 L133.26,54.69 L133.81,54.45 L134.36,54.21 L134.91,53.99 L135.46,53.77 L136.01,53.57 L136.56,53.37 L137.11,53.18 L137.66,53.00 L138.21,52.82 L138.76,52.65 L139.31,52.49 L139.86,52.33 L140.41,52.18 L140.96,52.03 L141.51,51.89 L142.06,51.76 L142.61,51.63 L143.16,51.51 L143.71,51.39 L144.26,51.27 L144.81,51.16 L145.36,51.05 L145.91,50.95 L146.46,50.85 L147.01,50.75 L147.55,50.66 L148.10,50.57 L148.65,50.49 L149.20,50.41 L149.75,50.33 L150.30,50.25 L150.85,50.17 L151.40,50.10 L151.95,50.03 L152.50,49.97 L153.05,49.90 L153.60,49.84 L154.15,49.78 L154.70,49.72 L155.25,49.67 L155.80,49.61 L156.35,49.56 L156.90,49.51 L157.45,49.46 L158.00,49.41 L158.55,49.37 L159.10,49.32 L159.65,49.28 L160.20,49.24 L160.75,49.20 L161.30,49.16 L161.85,49.12 L162.40,49.09 L162.95,49.05 L163.50,49.02 L164.05,48.98 L164.60,48.95 L165.15,48.92 L165.70,48.89 L166.25,48.86 L166.80,48.83 L167.35,48.81 L167.90,48.78 L168.45,48.75 L169.00,48.73 L169.55,48.71 L170.10,48.68 L170.65,48.66 L171.20,48.64 L171.75,48.62 L172.30,48.59 L172.85,48.57 L173.40,48.55 L173.95,48.54 L174.50,48.52 L175.05,48.50 L175.60,48.48 L176.15,48.46 L176.70,48.45 L177.25,48.43 L177.80,48.42 L178.35,48.40 L178.90,48.39 L179.45,48.37 L180.00,48.36 L180.55,48.34 L181.10,48.33 L181.65,48.32 L182.20,48.31 L182.75,48.29 L183.30,48.28 L183.85,48.27 L184.40,48.26 L184.95,48.25 L185.50,48.24 L186.05,48.23 L186.60,48.22 L187.15,48.21 L187.70,48.20 L188.25,48.19 L188.80,48.18 L189.35,48.17 L189.90,48.16 L190.45,48.15 L191.00,48.14 L191.55,48.14 L192.10,48.13 L192.65,48.12 L193.20,48.11 L193.75,48.10 L194.29,48.10 L194.84,48.09 L195.39,48.08 L195.94,48.08 L196.49,48.07 L197.04,48.06 L197.59,48.06 L198.14,48.05 L198.69,48.04 L199.24,48.04 L199.79,48.03 L200.34,48.03 L200.89,48.02 L201.44,48.02 L201.99,48.01 L202.54,48.01 L203.09,48.00 L203.64,48.00 L204.19,47.99 L204.74,47.99 L205.29,47.98 L205.84,47.98 L206.39,47.97 L206.94,47.97 L207.49,47.96 L208.04,47.96 L208.59,47.96 L209.14,47.95 L209.69,47.95 L210.24,47.94 L210.79,47.94 L211.34,47.94 L211.89,47.93 L212.44,47.93 L212.99,47.92 L213.54,47.92 L214.09,47.92 L214.64,47.91 L215.19,47.91 L215.74,47.91 L216.29,47.90 L216.84,47.90 L217.39,47.90 L217.94,47.90 L218.49,47.89 L219.04,47.89 L219.59,47.89 L220.14,47.88 L220.69,47.88 L221.24,47.88 L221.79,47.87 L222.34,47.87 L222.89,47.87 L223.44,47.87 L223.99,47.86 L224.54,47.86 L225.09,47.86 L225.64,47.86 L226.19,47.85 L226.74,47.85 L227.29,47.85 L227.84,47.85 L228.39,47.84 L228.94,47.84 L229.49,47.84 L230.04,47.84 L230.59,47.84 L231.14,47.83 L231.69,47.83 L232.24,47.83 L232.79,47.83 L233.34,47.82 L233.89,47.82 L234.44,47.82 L234.99,47.82 L235.54,47.82 L236.09,47.81 L236.64,47.81 L237.19,47.81 L237.74,47.81 L238.29,47.81 L238.84,47.80 L239.39,47.80 L239.94,47.80 L240.49,47.80 L241.04,47.80 L241.58,47.80 L242.13,47.79 L242.68,47.79 L243.23,47.79 L243.78,47.79 L244.33,47.79 L244.88,47.78 L245.43,47.78 L245.98,47.78 L246.53,47.78 L247.08,47.78 L247.63,47.78 L248.18,47.77 L248.73,47.77 L249.28,47.77 L249.83,47.77 L250.38,47.77 L250.93,47.77 L251.48,47.76 L252.03,47.76 L252.58,47.76 L253.13,47.76 L253.68,47.76 L254.23,47.76 L254.78,47.75 L255.33,47.75 L255.88,47.75 L256.43,47.75 L256.98,47.75 L257.53,47.75 L258.08,47.75 L258.63,47.74 L259.18,47.74 L259.73,47.74 L260.28,47.74 L260.83,47.74 L261.38,47.74 L261.93,47.73 L262.48,47.73 L263.03,47.73 L263.58,47.73 L264.13,47.73 L264.68,47.73 L265.23,47.73 L265.78,47.72 L266.33,47.72 L266.88,47.72 L267.43,47.72 L267.98,47.72 L268.53,47.72 L269.08,47.72 L269.63,47.71 L270.18,47.71 L270.73,47.71 L271.28,47.71 L271.83,47.71 L272.38,47.71 L272.93,47.71 L273.48,47.70 L274.03,47.70 L274.58,47.70 L275.13,47.70 L275.68,47.70 L276.23,47.70 L276.78,47.70 L277.33,47.70 L277.88,47.69 L278.43,47.69 L278.98,47.69 L279.53,47.69 L280.08,47.69 L280.63,47.69 L281.18,47.69 L281.73,47.69 L282.28,47.68 L282.83,47.68 L283.38,47.68 L283.93,47.68 L284.48,47.68 L285.03,47.68 L285.58,47.68 L286.13,47.68 L286.68,47.67 L287.23,47.67 L287.78,47.67 L288.33,47.67 L288.87,47.67 L289.42,47.67 L289.97,47.67 L290.52,47.67 L291.07,47.67 L291.62,47.66 L292.17,47.66 L292.72,47.66 L293.27,47.66 L293.82,47.66 L294.37,47.66 L294.92,47.66 L295.47,47.66 L296.02,47.66 L296.57,47.66 L297.12,47.65 L297.67,47.65 L298.22,47.65 L298.77,47.65 L299.32,47.65 L299.87,47.65 L300.42,47.65 L300.97,47.65 L301.52,47.65 L302.07,47.65 L302.62,47.65 L303.17,47.64 L303.72,47.64 L304.27,47.64 L304.82,47.64 L305.37,47.64 L305.92,47.64 L306.47,47.64 L307.02,47.64 L307.57,47.64 L308.12,47.64 L308.67,47.64 L309.22,47.64 L309.77,47.64 L310.32,47.64 L310.87,47.63 L311.42,47.63 L311.97,47.63 L312.52,47.63 L313.07,47.63 L313.62,47.63 L314.17,47.63 L314.72,47.63 L315.27,47.63 L315.82,47.63 L316.37,47.63 L316.92,47.63 L317.47,47.63 L318.02,47.63 L318.57,47.63 L319.12,47.63 L319.67,47.63 L320.22,47.63 L320.77,47.62 L321.32,47.62 L321.87,47.62 L322.42,47.62 L322.97,47.62 L323.52,47.62 L324.07,47.62 L324.62,47.62 L325.17,47.62 L325.72,47.62 L326.27,47.62 L326.82,47.62 L327.37,47.62 L327.92,47.62 L328.47,47.62 L329.02,47.62 L329.57,47.62 L330.12,47.62 L330.67,47.62 L331.22,47.62 L331.77,47.62 L332.32,47.62 L332.87,47.62 L333.42,47.62 L333.97,47.62 L334.52,47.62 L335.07,47.62 L335.61,47.62 L336.16,47.62 L336.71,47.62 L337.26,47.62 L337.81,47.62 L338.36,47.62 L338.91,47.62 L339.46,47.61 L340.01,47.61 L340.56,47.61 L341.11,47.61 L341.66,47.61 L342.21,47.61 L342.76,47.61 L343.31,47.61 L343.86,47.61 L344.41,47.61 L344.96,47.61 L345.51,47.61 L346.06,47.61 L346.61,47.61 L347.16,47.61 L347.71,47.61 L348.26,47.61 L348.81,47.61 L349.36,47.61 L349.91,47.61 L350.46,47.61 L351.01,47.61 L351.56,47.61 L352.11,47.61 L352.66,47.61 L353.21,47.61 L353.76,47.61 L354.31,47.61 L354.86,47.61 L355.41,47.61 L355.96,47.61 L356.51,47.61 L357.06,47.61 L357.61,47.61 L358.16,47.61 L358.71,47.61 L359.26,47.61 L359.81,47.61 L360.36,47.61 L360.91,47.61 L361.46,47.61 L362.01,47.61 L362.56,47.61 L363.11,47.61 L363.66,47.61 L364.21,47.61 L364.76,47.61 L365.31,47.61 L365.86,47.61 L366.41,47.61 L366.96,47.61 L367.51,47.61 L368.06,47.61 L368.61,47.61 L369.16,47.61 L369.71,47.61 L370.26,47.61 L370.81,47.61 L371.36,47.61 L371.91,47.61 L372.46,47.61 L373.01,47.61 L373.56,47.61 L374.11,47.61 L374.66,47.61 L375.21,47.61 L375.76,47.61 L376.31,47.61 L376.86,47.61 L377.41,47.61 L377.96,47.61 L378.51,47.61 L379.06,47.61 L379.61,47.61 L380.16,47.61 L380.71,47.61 L381.26,47.61 L381.81,47.61 L382.36,47.61 L382.90,47.61 L383.45,47.61 L384.00,47.61 L384.55,47.61 L385.10,47.61 L385.65,47.61 L386.20,47.61 L386.75,47.61 L387.30,47.61 L387.85,47.61 L388.40,47.61 L388.95,47.61 L389.50,47.61 L390.05,47.61 L390.60,47.61 L391.15,47.61 L391.70,47.61 L392.25,47.61 L392.80,47.61 L393.35,47.61 L393.90,47.61 L394.45,47.61 L395.00,47.61 L395.55,47.61 L396.10,47.61 L396.65,47.61 L397.20,47.61 L397.75,47.61 L398.30,47.61 L398.85,47.61 L399.40,47.61 L399.95,47.61 L400.50,47.61 L401.05,47.61 L401.60,47.61 L402.15,47.61 L402.70,47.61 L403.25,47.61 L403.80,47.61 L404.35,47.61 L404.90,47.61 L405.45,47.61 L406.00,47.61" stroke="#22ff00" stroke-dasharray="13.4 5.9" stroke-dashoffset="0.46"/>
<path d="M156.35,251.57 L156.90,249.49 L157.45,247.45 L158.00,245.43 L158.55,243.45 L159.10,241.50 L159.65,239.58 L160.20,237.69 L160.75,235.83 L161.30,233.99 L161.85,232.19 L162.40,230.41 L162.95,228.66 L163.50,226.94 L164.05,225.24 L164.60,223.56 L165.15,221.92 L165.70,220.29 L166.25,218.69 L166.80,217.11 L167.35,215.56 L167.90,214.03 L168.45,212.52 L169.00,211.03 L169.55,209.56 L170.10,208.12 L170.65,206.69 L171.20,205.29 L171.75,203.90 L172.30,202.54 L172.85,201.19 L173.40,199.86 L173.95,198.55 L174.50,197.26 L175.05,195.98 L175.60,194.72 L176.15,193.48 L176.70,192.26 L177.25,191.05 L177.80,189.86 L178.35,188.68 L178.90,187.52 L179.45,186.37 L180.00,185.24 L180.55,184.13 L181.10,183.03 L181.65,181.94 L182.20,180.87 L182.75,179.81 L183.30,178.76 L183.85,177.73 L184.40,176.70 L184.95,175.70 L185.50,174.70 L186.05,173.72 L186.60,172.75 L187.15,171.79 L187.70,170.84 L188.25,169.91 L188.80,168.98 L189.35,168.07 L189.90,167.16 L190.45,166.27 L191.00,165.39 L191.55,164.52 L192.10,163.66 L192.65,162.81 L193.20,161.97 L193.75,161.14 L194.29,160.32 L194.84,159.50 L195.39,158.70 L195.94,157.91 L196.49,157.12 L197.04,156.34 L197.59,155.58 L198.14,154.82 L198.69,154.07 L199.24,153.32 L199.79,152.59 L200.34,151.86 L200.89,151.15 L201.44,150.43 L201.99,149.73 L202.54,149.04 L203.09,148.35 L203.64,147.67 L204.19,146.99 L204.74,146.33 L205.29,145.67 L205.84,145.01 L206.39,144.37 L206.94,143.73 L207.49,143.09 L208.04,142.47 L208.59,141.85 L209.14,141.23 L209.69,140.62 L210.24,140.02 L210.79,139.43 L211.34,138.84 L211.89,138.25 L212.44,137.67 L212.99,137.10 L213.54,136.53 L214.09,135.97 L214.64,135.41 L215.19,134.86 L215.74,134.32 L216.29,133.77 L216.84,133.24 L217.39,132.71 L217.94,132.18 L218.49,131.66 L219.04,131.14 L219.59,130.63 L220.14,130.13 L220.69,129.62 L221.24,129.13 L221.79,128.63 L222.34,128.14 L222.89,127.66 L223.44,127.18 L223.99,126.70 L224.54,126.23 L225.09,125.76 L225.64,125.30 L226.19,124.84 L226.74,124.38 L227.29,123.93 L227.84,123.48 L228.39,123.04 L228.94,122.60 L229.49,122.16 L230.04,121.72 L230.59,121.29 L231.14,120.87 L231.69,120.45 L232.24,120.03 L232.79,119.61 L233.34,119.20 L233.89,118.79 L234.44,118.38 L234.99,117.98 L235.54,117.58 L236.09,117.18 L236.64,116.79 L237.19,116.40 L237.74,116.01 L238.29,115.63 L238.84,115.25 L239.39,114.87 L239.94,114.49 L240.49,114.12 L241.04,113.75 L241.58,113.38 L242.13,113.02 L242.68,112.66 L243.23,112.30 L243.78,111.94 L244.33,111.59 L244.88,111.24 L245.43,110.89 L245.98,110.54 L246.53,110.20 L247.08,109.86 L247.63,109.52 L248.18,109.18 L248.73,108.85 L249.28,108.52 L249.83,108.19 L250.38,107.86 L250.93,107.53 L251.48,107.21 L252.03,106.89 L252.58,106.57 L253.13,106.26 L253.68,105.94 L254.23,105.63 L254.78,105.32 L255.33,105.02 L255.88,104.71 L256.43,104.41 L256.98,104.11 L257.53,103.81 L258.08,103.51 L258.63,103.21 L259.18,102.92 L259.73,102.63 L260.28,102.34 L260.83,102.05 L261.38,101.77 L261.93,101.48 L262.48,101.20 L263.03,100.92 L263.58,100.64 L264.13,100.36 L264.68,100.09 L265.23,99.81 L265.78,99.54 L266.33,99.27 L266.88,99.00 L267.43,98.74 L267.98,98.47 L268.53,98.21 L269.08,97.95 L269.63,97.69 L270.18,97.43 L270.73,97.17 L271.28,96.91 L271.83,96.66 L272.38,96.41 L272.93,96.16 L273.48,95.91 L274.03,95.66 L274.58,95.41 L275.13,95.17 L275.68,94.92 L276.23,94.68 L276.78,94.44 L277.33,94.20 L277.88,93.96 L278.43,93.73 L278.98,93.49 L279.53,93.26 L280.08,93.03 L280.63,92.79 L281.18,92.56 L281.73,92.34 L282.28,92.11 L282.83,91.88 L283.38,91.66 L283.93,91.44 L284.48,91.21 L285.03,90.99 L285.58,90.77 L286.13,90.56 L286.68,90.34 L287.23,90.12 L287.78,89.91 L288.33,89.70 L288.87,89.48 L289.42,89.27 L289.97,89.06 L290.52,88.85 L291.07,88.65 L291.62,88.44 L292.17,88.24 L292.72,88.03 L293.27,87.83 L293.82,87.63 L294.37,87.43 L294.92,87.23 L295.47,87.03 L296.02,86.83 L296.57,86.64 L297.12,86.44 L297.67,86.25 L298.22,86.06 L298.77,85.87 L299.32,85.68 L299.87,85.49 L300.42,85.30 L300.97,85.11 L301.52,84.92 L302.07,84.74 L302.62,84.56 L303.17,84.37 L303.72,84.19 L304.27,84.01 L304.82,83.83 L305.37,83.65 L305.92,83.47 L306.47,83.30 L307.02,83.12 L307.57,82.95 L308.12,82.77 L308.67,82.60 L309.22,82.43 L309.77,82.26 L310.32,82.09 L310.87,81.92 L311.42,81.75 L311.97,81.58 L312.52,81.42 L313.07,81.25 L313.62,81.09 L314.17,80.92 L314.72,80.76 L315.27,80.60 L315.82,80.44 L316.37,80.28 L316.92,80.12 L317.47,79.96 L318.02,79.81 L318.57,79.65 L319.12,79.50 L319.67,79.34 L320.22,79.19 L320.77,79.04 L321.32,78.89 L321.87,78.74 L322.42,78.59 L322.97,78.44 L323.52,78.29 L324.07,78.15 L324.62,78.00 L325.17,77.85 L325.72,77.71 L326.27,77.57 L326.82,77.43 L327.37,77.28 L327.92,77.14 L328.47,77.00 L329.02,76.87 L329.57,76.73 L330.12,76.59 L330.67,76.45 L331.22,76.32 L331.77,76.18 L332.32,76.05 L332.87,75.92 L333.42,75.79 L333.97,75.66 L334.52,75.53 L335.07,75.40 L335.61,75.27 L336.16,75.14 L336.71,75.01 L337.26,74.89 L337.81,74.76 L338.36,74.64 L338.91,74.51 L339.46,74.39 L340.01,74.27 L340.56,74.15 L341.11,74.03 L341.66,73.91 L342.21,73.79 L342.76,73.67 L343.31,73.55 L343.86,73.44 L344.41,73.32 L344.96,73.21 L345.51,73.09 L346.06,72.98 L346.61,72.87 L347.16,72.76 L347.71,72.65 L348.26,72.54 L348.81,72.43 L349.36,72.32 L349.91,72.21 L350.46,72.10 L351.01,72.00 L351.56,71.89 L352.11,71.79 L352.66,71.68 L353.21,71.58 L353.76,71.48 L354.31,71.38 L354.86,71.28 L355.41,71.18 L355.96,71.08 L356.51,70.98 L357.06,70.88 L357.61,70.78 L358.16,70.69 L358.71,70.59 L359.26,70.50 L359.81,70.40 L360.36,70.31 L360.91,70.22 L361.46,70.13 L362.01,70.03 L362.56,69.94 L363.11,69.85 L363.66,69.76 L364.21,69.68 L364.76,69.59 L365.31,69.50 L365.86,69.42 L366.41,69.33 L366.96,69.25 L367.51,69.16 L368.06,69.08 L368.61,69.00 L369.16,68.91 L369.71,68.83 L370.26,68.75 L370.81,68.67 L371.36,68.59 L371.91,68.51 L372.46,68.44 L373.01,68.36 L373.56,68.28 L374.11,68.21 L374.66,68.13 L375.21,68.06 L375.76,67.98 L376.31,67.91 L376.86,67.84 L377.41,67.77 L377.96,67.69 L378.51,67.62 L379.06,67.55 L379.61,67.48 L380.16,67.42 L380.71,67.35 L381.26,67.28 L381.81,67.21 L382.36,67.15 L382.90,67.08 L383.45,67.02 L384.00,66.95 L384.55,66.89 L385.10,66.83 L385.65,66.76 L386.20,66.70 L386.75,66.64 L387.30,66.58 L387.85,66.52 L388.40,66.46 L388.95,66.40 L389.50,66.34 L390.05,66.29 L390.60,66.23 L391.15,66.17 L391.70,66.12 L392.25,66.06 L392.80,66.01 L393.35,65.95 L393.90,65.90 L394.45,65.85 L395.00,65.79 L395.55,65.74 L396.10,65.69 L396.65,65.64 L397.20,65.59 L397.75,65.54 L398.30,65.49 L398.85,65.44 L399.40,65.39 L399.95,65.34 L400.50,65.30 L401.05,65.25 L401.60,65.20 L402.15,65.16 L402.70,65.11 L403.25,65.07 L403.80,65.02 L404.35,64.98 L404.90,64.94 L405.45,64.90 L406.00,64.85" stroke="#0566ff"/>
<path d="M146.46,249.82 L147.01,247.02 L147.55,244.27 L148.10,241.57 L148.65,238.91 L149.20,236.29 L149.75,233.72 L150.30,231.19 L150.85,228.71 L151.40,226.26 L151.95,223.85 L152.50,221.48 L153.05,219.15 L153.60,216.85 L154.15,214.59 L154.70,212.37 L155.25,210.18 L155.80,208.03 L156.35,205.91 L156.90,203.82 L157.45,201.77 L158.00,199.74 L158.55,197.75 L159.10,195.79 L159.65,193.85 L160.20,191.95 L160.75,190.07 L161.30,188.23 L161.85,186.41 L162.40,184.61 L162.95,182.84 L163.50,181.10 L164.05,179.39 L164.60,177.70 L165.15,176.03 L165.70,174.39 L166.25,172.77 L166.80,171.17 L167.35,169.60 L167.90,168.05 L168.45,166.52 L169.00,165.01 L169.55,163.52 L170.10,162.05 L170.65,160.61 L171.20,159.18 L171.75,157.77 L172.30,156.39 L172.85,155.02 L173.40,153.67 L173.95,152.33 L174.50,151.02 L175.05,149.72 L175.60,148.44 L176.15,147.18 L176.70,145.93 L177.25,144.70 L177.80,143.49 L178.35,142.29 L178.90,141.10 L179.45,139.94 L180.00,138.78 L180.55,137.65 L181.10,136.52 L181.65,135.41 L182.20,134.32 L182.75,133.24 L183.30,132.17 L183.85,131.11 L184.40,130.07 L184.95,129.04 L185.50,128.03 L186.05,127.02 L186.60,126.03 L187.15,125.05 L187.70,124.08 L188.25,123.13 L188.80,122.18 L189.35,121.25 L189.90,120.33 L190.45,119.41 L191.00,118.51 L191.55,117.62 L192.10,116.74 L192.65,115.87 L193.20,115.01 L193.75,114.16 L194.29,113.32 L194.84,112.49 L195.39,111.67 L195.94,110.86 L196.49,110.06 L197.04,109.27 L197.59,108.48 L198.14,107.71 L198.69,106.94 L199.24,106.18 L199.79,105.43 L200.34,104.69 L200.89,103.96 L201.44,103.23 L201.99,102.51 L202.54,101.80 L203.09,101.10 L203.64,100.41 L204.19,99.72 L204.74,99.04 L205.29,98.36 L205.84,97.70 L206.39,97.04 L206.94,96.39 L207.49,95.74 L208.04,95.10 L208.59,94.47 L209.14,93.85 L209.69,93.23 L210.24,92.62 L210.79,92.01 L211.34,91.41 L211.89,90.82 L212.44,90.23 L212.99,89.65 L213.54,89.07 L214.09,88.50 L214.64,87.93 L215.19,87.37 L215.74,86.82 L216.29,86.27 L216.84,85.73 L217.39,85.19 L217.94,84.66 L218.49,84.13 L219.04,83.61 L219.59,83.09 L220.14,82.58 L220.69,82.07 L221.24,81.57 L221.79,81.07 L222.34,80.58 L222.89,80.09 L223.44,79.61 L223.99,79.13 L224.54,78.65 L225.09,78.18 L225.64,77.71 L226.19,77.25 L226.74,76.79 L227.29,76.34 L227.84,75.89 L228.39,75.44 L228.94,75.00 L229.49,74.56 L230.04,74.13 L230.59,73.70 L231.14,73.27 L231.69,72.85 L232.24,72.43 L232.79,72.02 L233.34,71.61 L233.89,71.20 L234.44,70.79 L234.99,70.39 L235.54,69.99 L236.09,69.60 L236.64,69.21 L237.19,68.82 L237.74,68.44 L238.29,68.06 L238.84,67.68 L239.39,67.30 L239.94,66.93 L240.49,66.56 L241.04,66.20 L241.58,65.84 L242.13,65.48 L242.68,65.12 L243.23,64.77 L243.78,64.42 L244.33,64.07 L244.88,63.72 L245.43,63.38 L245.98,63.04 L246.53,62.70 L247.08,62.37 L247.63,62.04 L248.18,61.71 L248.73,61.38 L249.28,61.06 L249.83,60.74 L250.38,60.42 L250.93,60.10 L251.48,59.79 L252.03,59.48 L252.58,59.17 L253.13,58.86 L253.68,58.56 L254.23,58.25 L254.78,57.95 L255.33,57.66 L255.88,57.36 L256.43,57.07 L256.98,56.78 L257.53,56.49 L258.08,56.20 L258.63,55.92 L259.18,55.63 L259.73,55.35 L260.28,55.07 L260.83,54.80 L261.38,54.52 L261.93,54.25 L262.48,53.98 L263.03,53.71 L263.58,53.45 L264.13,53.18 L264.68,52.92 L265.23,52.66 L265.78,52.40 L266.33,52.14 L266.88,51.88 L267.43,51.63 L267.98,51.38 L268.53,51.13 L269.08,50.88 L269.63,50.63 L270.18,50.39 L270.73,50.14 L271.28,49.90 L271.83,49.66 L272.38,49.42 L272.93,49.18 L273.48,48.95 L274.03,48.71 L274.58,48.48 L275.13,48.25 L275.68,48.02 L276.23,47.79 L276.78,47.57 L277.33,47.34 L277.88,47.12 L278.43,46.90 L278.98,46.68 L279.53,46.46 L280.08,46.24 L280.63,46.02 L281.18,45.81 L281.73,45.59 L282.28,45.38 L282.83,45.17 L283.38,44.96 L283.93,44.75 L284.48,44.55 L285.03,44.34 L285.58,44.14 L286.13,43.93 L286.68,43.73 L287.23,43.53 L287.78,43.33 L288.33,43.13 L288.87,42.93 L289.42,42.74 L289.97,42.54 L290.52,42.35 L291.07,42.16 L291.62,41.97 L292.17,41.78 L292.72,41.59 L293.27,41.40 L293.82,41.21 L294.37,41.03 L294.92,40.84 L295.47,40.66 L296.02,40.48 L296.57,40.30 L297.12,40.12 L297.67,39.94 L298.22,39.76 L298.77,39.58 L299.32,39.41 L299.87,39.23 L300.42,39.06 L300.97,38.88 L301.52,38.71 L302.07,38.54 L302.62,38.37 L303.17,38.20 L303.72,38.03 L304.27,37.87 L304.82,37.70 L305.37,37.53 L305.92,37.37 L306.47,37.21 L307.02,37.04 L307.57,36.88 L308.12,36.72 L308.67,36.56 L309.22,36.40 L309.77,36.24 L310.32,36.09 L310.87,35.93 L311.42,35.77 L311.97,35.62 L312.52,35.47 L313.07,35.31 L313.62,35.16 L314.17,35.01 L314.72,34.86 L315.27,34.71 L315.82,34.56 L316.37,34.41 L316.92,34.26 L317.47,34.12 L318.02,33.97 L318.57,33.83 L319.12,33.68 L319.67,33.54 L320.22,33.39 L320.77,33.25 L321.32,33.11 L321.87,32.97 L322.42,32.83 L322.97,32.69 L323.52,32.55 L324.07,32.41 L324.62,32.28 L325.17,32.14 L325.72,32.01 L326.27,31.87 L326.82,31.74 L327.37,31.60 L327.92,31.47 L328.47,31.34 L329.02,31.21 L329.57,31.07 L330.12,30.94 L330.67,30.81 L331.22,30.69 L331.77,30.56 L332.32,30.43 L332.87,30.30 L333.42,30.18 L333.97,30.05 L334.52,29.93 L335.07,29.80 L335.61,29.68 L336.16,29.55 L336.71,29.43 L337.26,29.31 L337.81,29.19 L338.36,29.07 L338.91,28.95 L339.46,28.83 L340.01,28.71 L340.56,28.59 L341.11,28.47 L341.66,28.35 L342.21,28.24 L342.76,28.12 L343.31,28.01 L343.86,27.89 L344.41,27.78 L344.96,27.66 L345.51,27.55 L346.06,27.44 L346.61,27.32 L347.16,27.21 L347.71,27.10 L348.26,26.99 L348.81,26.88 L349.36,26.77 L349.91,26.66 L350.46,26.55 L351.01,26.44 L351.56,26.34 L352.11,26.23 L352.66,26.12 L353.21,26.02 L353.76,25.91 L354.31,25.81 L354.86,25.70 L355.41,25.60 L355.96,25.50 L356.51,25.39 L357.06,25.29 L357.61,25.19 L358.16,25.09 L358.71,24.99 L359.26,24.89 L359.81,24.79 L360.36,24.69 L360.91,24.59 L361.46,24.49 L362.01,24.39 L362.56,24.29 L363.11,24.20 L363.66,24.10 L364.21,24.00 L364.76,23.91 L365.31,23.81 L365.86,23.72 L366.41,23.62 L366.96,23.53 L367.51,23.43 L368.06,23.34 L368.61,23.25 L369.16,23.16 L369.71,23.06 L370.26,22.97 L370.81,22.88 L371.36,22.79 L371.91,22.70 L372.46,22.61 L373.01,22.52 L373.56,22.43 L374.11,22.35 L374.66,22.26 L375.21,22.17 L375.76,22.08 L376.31,22.00 L376.86,21.91 L377.41,21.83 L377.96,21.74 L378.51,21.65 L379.06,21.57 L379.61,21.49 L380.16,21.40 L380.71,21.32 L381.26,21.24 L381.81,21.15 L382.36,21.07 L382.90,20.99 L383.45,20.91 L384.00,20.83 L384.55,20.75 L385.10,20.67 L385.65,20.59 L386.20,20.51 L386.75,20.43 L387.30,20.35 L387.85,20.27 L388.40,20.19 L388.95,20.12 L389.50,20.04 L390.05,19.96 L390.60,19.89 L391.15,19.81 L391.70,19.73 L392.25,19.66 L392.80,19.58 L393.35,19.51 L393.90,19.44 L394.45,19.36 L395.00,19.29 L395.55,19.21 L396.10,19.14 L396.65,19.07 L397.20,19.00 L397.75,18.93 L398.30,18.85 L398.85,18.78 L399.40,18.71 L399.95,18.64 L400.50,18.57 L401.05,18.50 L401.60,18.43 L402.15,18.37 L402.70,18.30 L403.25,18.23 L403.80,18.16 L404.35,18.09 L404.90,18.03 L405.45,17.96 L406.00,17.89" stroke="#0566ff" stroke-dasharray="13.4 5.9" stroke-dashoffset="17.92"/>
</g>
<path d="M23.00,245.6 v-3.3 M23.00,8.6 v2.6 M99.60,245.6 v-3.3 M99.60,8.6 v2.6 M176.20,245.6 v-3.3 M176.20,8.6 v2.6 M252.80,245.6 v-3.3 M252.80,8.6 v2.6 M329.40,245.6 v-3.3 M329.40,8.6 v2.6 M406.00,245.6 v-3.3 M406.00,8.6 v2.6 M23.0,223.03 h3.3 M406.0,223.03 h-2.6 M23.0,177.89 h3.3 M406.0,177.89 h-2.6 M23.0,132.74 h3.3 M406.0,132.74 h-2.6 M23.0,87.60 h3.3 M406.0,87.60 h-2.6 M23.0,42.46 h3.3 M406.0,42.46 h-2.6" stroke="#000" stroke-width="0.9" fill="none"/>
<path d="M38.32,245.6 v-1.9 M38.32,8.6 v1.5 M53.64,245.6 v-1.9 M53.64,8.6 v1.5 M68.96,245.6 v-1.9 M68.96,8.6 v1.5 M84.28,245.6 v-1.9 M84.28,8.6 v1.5 M114.92,245.6 v-1.9 M114.92,8.6 v1.5 M130.24,245.6 v-1.9 M130.24,8.6 v1.5 M145.56,245.6 v-1.9 M145.56,8.6 v1.5 M160.88,245.6 v-1.9 M160.88,8.6 v1.5 M191.52,245.6 v-1.9 M191.52,8.6 v1.5 M206.84,245.6 v-1.9 M206.84,8.6 v1.5 M222.16,245.6 v-1.9 M222.16,8.6 v1.5 M237.48,245.6 v-1.9 M237.48,8.6 v1.5 M268.12,245.6 v-1.9 M268.12,8.6 v1.5 M283.44,245.6 v-1.9 M283.44,8.6 v1.5 M298.76,245.6 v-1.9 M298.76,8.6 v1.5 M314.08,245.6 v-1.9 M314.08,8.6 v1.5 M344.72,245.6 v-1.9 M344.72,8.6 v1.5 M360.04,245.6 v-1.9 M360.04,8.6 v1.5 M375.36,245.6 v-1.9 M375.36,8.6 v1.5 M390.68,245.6 v-1.9 M390.68,8.6 v1.5 M23.0,245.60 h1.9 M406.0,245.60 h-1.5 M23.0,234.31 h1.9 M406.0,234.31 h-1.5 M23.0,211.74 h1.9 M406.0,211.74 h-1.5 M23.0,200.46 h1.9 M406.0,200.46 h-1.5 M23.0,189.17 h1.9 M406.0,189.17 h-1.5 M23.0,166.60 h1.9 M406.0,166.60 h-1.5 M23.0,155.31 h1.9 M406.0,155.31 h-1.5 M23.0,144.03 h1.9 M406.0,144.03 h-1.5 M23.0,121.46 h1.9 M406.0,121.46 h-1.5 M23.0,110.17 h1.9 M406.0,110.17 h-1.5 M23.0,98.89 h1.9 M406.0,98.89 h-1.5 M23.0,76.31 h1.9 M406.0,76.31 h-1.5 M23.0,65.03 h1.9 M406.0,65.03 h-1.5 M23.0,53.74 h1.9 M406.0,53.74 h-1.5 M23.0,31.17 h1.9 M406.0,31.17 h-1.5 M23.0,19.89 h1.9 M406.0,19.89 h-1.5 M23.0,8.60 h1.9 M406.0,8.60 h-1.5" stroke="#000" stroke-width="0.7" fill="none"/>
<rect x="23.0" y="8.6" width="383.0" height="237.0" fill="none" stroke="#000" stroke-width="1.8"/>
<line x1="318" y1="107.7" x2="339" y2="107.7" stroke="#ff0000" stroke-width="2.1"/>
<line x1="318" y1="131.3" x2="339" y2="131.3" stroke="#ff0000" stroke-width="2.1" stroke-dasharray="6.7 1.5"/>
<line x1="318" y1="155.0" x2="339" y2="155.0" stroke="#22ff00" stroke-width="2.1"/>
<line x1="318" y1="178.9" x2="339" y2="178.9" stroke="#22ff00" stroke-width="2.1" stroke-dasharray="6.7 1.5"/>
<line x1="318" y1="202.6" x2="339" y2="202.6" stroke="#0566ff" stroke-width="2.1"/>
<line x1="318" y1="226.3" x2="339" y2="226.3" stroke="#0566ff" stroke-width="2.1" stroke-dasharray="6.7 1.5"/>
<g font-family="Liberation Serif, serif" font-style="italic" fill="#000" stroke="#000" stroke-width="0" style="filter:grayscale(1)">
<text x="23.0" y="263" font-size="16.8" text-anchor="middle">0</text>
<text x="97.6" y="263" font-size="16.8" text-anchor="middle">0.5</text>
<text x="176.2" y="263" font-size="16.8" text-anchor="middle">1</text>
<text x="251.3" y="263" font-size="16.8" text-anchor="middle">1.5</text>
<text x="329.4" y="263" font-size="16.8" text-anchor="middle">2</text>
<text x="405.0" y="263" font-size="16.8" text-anchor="middle">2.5</text>
<text x="16.9" y="47.2" font-size="16.8" text-anchor="end">0</text>
<text x="16.9" y="92.3" font-size="16.8" text-anchor="end">-2</text>
<text x="16.9" y="137.4" font-size="16.8" text-anchor="end">-4</text>
<text x="16.9" y="182.6" font-size="16.8" text-anchor="end">-6</text>
<text x="16.9" y="227.7" font-size="16.8" text-anchor="end">-8</text>
<text x="0.5" y="21.7" font-size="22.8" stroke-width="0.3">F</text>
<text x="349.8" y="279.1" font-size="21.5" stroke-width="0.25">a/b</text>
<text x="345.8" y="114.7" font-size="21.4" stroke-width="0.3">F</text><text x="355.8" y="116.1" font-size="13" stroke-width="0.2">C</text>
<text x="344.5" y="137.3" font-size="21.4" stroke-width="0.3">F</text><text x="354.0" y="138.6" font-size="13" stroke-width="0.2">C,box</text>
<text x="344.5" y="161.6" font-size="21.4" stroke-width="0.3">F</text><text x="354.6" y="164.1" font-size="13" stroke-width="0.2">D</text>
<text x="344.3" y="185.7" font-size="21.4" stroke-width="0.3">F</text><text x="353.2" y="187.4" font-size="13" stroke-width="0.2">D,box</text>
<text x="343.5" y="209.6" font-size="21.4" stroke-width="0.3">F</text><text x="353.4" y="213.6" font-size="13" stroke-width="0.2">N</text>
<text x="342.7" y="233.7" font-size="21.4" stroke-width="0.3">F</text><text x="352.6" y="235.4" font-size="13" stroke-width="0.2">N,box</text>
</g>
<path d="M18.8,0 L21.5,0 L17.6,7.4 L16.3,6.9 Z" fill="#000"/>
</svg>
</body></html>
